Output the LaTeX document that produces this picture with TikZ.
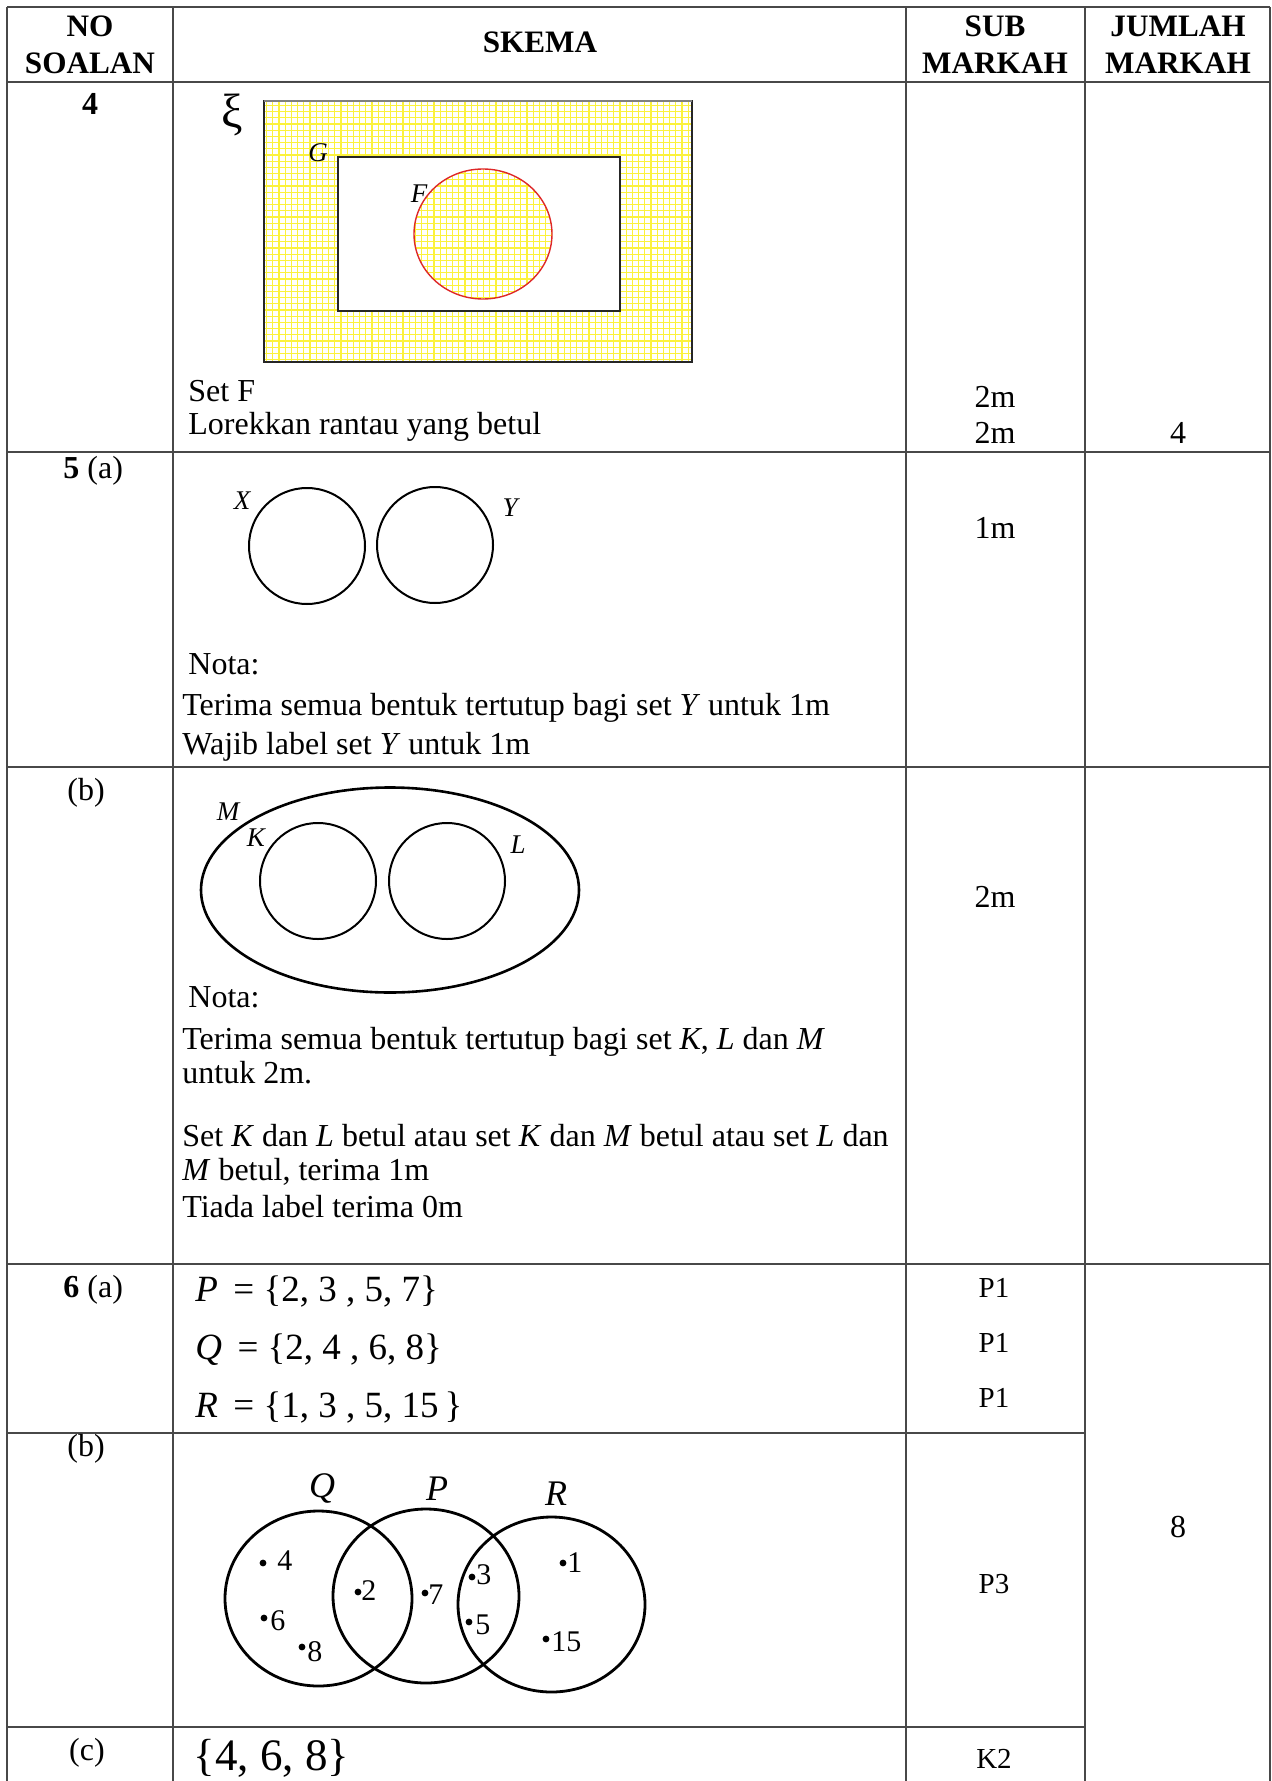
\documentclass[tikz,border=0pt]{standalone}
\usepackage{fontspec}
\setmainfont{Liberation Serif}
\usetikzlibrary{positioning}
\definecolor{RuleGray}{RGB}{72,72,72}
\definecolor{GridYellow}{RGB}{252,242,60}
\definecolor{SetRed}{RGB}{222,40,40}

\tikzset{
  rule/.style={line width=1pt, RuleGray},
  cell/.style={inner sep=0pt, font=\fontsize{16}{19}\selectfont},
  lhs/.style={cell, anchor=base west},
  mid/.style={cell, anchor=base},
  head/.style={cell, anchor=base, font=\fontsize{15.6}{19}\selectfont\bfseries},
  tag/.style={inner sep=0pt, font=\fontsize{13.5}{15}\selectfont\itshape},
  bigset/.style={inner sep=0pt, anchor=base west, font=\fontsize{18.5}{22}\selectfont},
  smallmk/.style={inner sep=0pt, anchor=base, font=\fontsize{14.5}{17}\selectfont},
  num/.style={inner sep=0pt, anchor=west, font=\fontsize{15}{18}\selectfont},
  venn/.style={line width=1pt},
}

\begin{document}
\begin{tikzpicture}[x=0.5pt,y=-0.5pt]
\useasboundingbox (0,0) rectangle (1272,1781);

% table rules
\draw[rule] (7,7) -- (1270,7);
\draw[rule] (7,82) -- (1270,82);
\draw[rule] (7,452) -- (1270,452);
\draw[rule] (7,767) -- (1270,767);
\draw[rule] (7,1264) -- (1270,1264);
\draw[rule] (7,1433) -- (1085,1433);
\draw[rule] (7,1727) -- (1085,1727);
\foreach \x in {7,173,906,1085,1270}
  \draw[rule] (\x,7) -- (\x,1781);

% header
\node[head] (no1) at (90,37) {NO};
\node[head] (no2) at (90,74) {SOALAN};
\node[head] (skema) at (540,53) {SKEMA};
\node[head] (sub1) at (995,37) {SUB};
\node[head] (sub2) at (995,74) {MARKAH};
\node[head] (jum1) at (1178,37) {JUMLAH};
\node[head] (jum2) at (1178,74) {MARKAH};

% soalan 4
\node[mid, font=\fontsize{16}{19}\selectfont\bfseries] (q4) at (90,115) {4};
\begin{scope}
  \clip (264,101) rectangle (692,362);
  \draw[GridYellow, line width=0.55pt, step=3.1pt] (264,362) grid (692,101);
\end{scope}
\fill[white] (338,157) rectangle (620,311);
\begin{scope}
  \clip (483,234) ellipse [x radius=69, y radius=65];
  \draw[GridYellow, line width=0.55pt, step=3.1pt] (405,310) grid (560,160);
\end{scope}
\draw[line width=0.6pt, black!85] (264,101) rectangle (692,362);
\draw[line width=1.4pt, gray] (264,101) -- (692,101);
\draw[line width=0.6pt, black!85] (338,157) rectangle (620,311);
\draw[SetRed, line width=0.7pt] (483,234) ellipse [x radius=69, y radius=65];
\node[inner sep=0pt, font=\fontsize{24}{26}\selectfont] (xi) at (232,115) {ξ};
\node[tag] (setG) at (318,153) {G};
\node[tag] (setF) at (419,194) {F};
\node[lhs] (t4a) at (188,401) {Set F};
\node[lhs] (t4b) at (188,434) {Lorekkan rantau yang betul};
\node[mid] (m4a) at (995,408) {2m};
\node[mid] (m4b) at (995,443) {2m};
\node[mid] (j4) at (1178,443) {4};

% soalan 5(a)
\node[lhs] (q5a) at (63,478) {\textbf{5} (a)};
\draw[venn] (307,546) circle [radius=58];
\draw[venn] (435,545) circle [radius=58];
\node[tag] (setX) at (242,501) {X};
\node[tag] (setY) at (510,508) {Y};
\node[lhs] (n5a) at (188,674) {Nota:};
\node[lhs] (t5a1) at (182,715) {Terima semua bentuk tertutup bagi set \textit{Y} untuk 1m};
\node[lhs] (t5a2) at (182,754) {Wajib label set \textit{Y} untuk 1m};
\node[mid] (m5a) at (995,538) {1m};

% soalan 5(b)
\node[mid] (q5b) at (86,800) {(b)};
\draw[line width=1.3pt] (390,890) ellipse [x radius=189, y radius=102.5];
\draw[venn] (318,881) circle [radius=58];
\draw[venn] (447,881) circle [radius=58];
\node[tag] (setM) at (228,812) {M};
\node[tag] (setK) at (256,838) {K};
\node[tag] (setL) at (518,845) {L};
\node[lhs] (n5b) at (188,1007) {Nota:};
\node[lhs] (t5b1) at (182,1049) {Terima semua bentuk tertutup bagi set \textit{K}, \textit{L} dan \textit{M}};
\node[lhs] (t5b2) at (182,1083) {untuk 2m.};
\node[lhs] (t5b3) at (182,1146) {Set \textit{K} dan \textit{L} betul atau set \textit{K} dan \textit{M} betul atau set \textit{L} dan};
\node[lhs] (t5b4) at (182,1180) {\textit{M} betul, terima 1m};
\node[lhs] (t5b5) at (182,1217) {Tiada label terima 0m};
\node[mid] (m5b) at (995,907) {2m};

% soalan 6(a)
\node[lhs] (q6a) at (63,1297) {\textbf{6} (a)};
\node[bigset] (setP6) at (195,1301) {\textit{P} \,= \{2, 3 , 5, 7\}};
\node[bigset] (setQ6) at (195,1359) {\textit{Q} \,= \{2, 4 , 6, 8\}};
\node[bigset] (setR6) at (195,1417) {\textit{R} \,= \{1, 3 , 5, 15\,\}};
\node[smallmk] (p1a) at (994,1297) {P1};
\node[smallmk] (p1b) at (994,1352) {P1};
\node[smallmk] (p1c) at (994,1407) {P1};
\node[mid] (j6) at (1178,1537) {8};

% soalan 6(b)
\node[mid] (q6b) at (86,1456) {(b)};
\draw[line width=1.4pt] (318.5,1598.5) ellipse [x radius=93.5, y radius=87.5];
\draw[line width=1.4pt] (426,1596) ellipse [x radius=93, y radius=87];
\draw[line width=1.4pt] (551.5,1604.5) ellipse [x radius=93.5, y radius=87.5];
\node[tag, anchor=base, font=\fontsize{18}{20}\selectfont\itshape] (labQ) at (322,1497) {Q};
\node[tag, anchor=base, font=\fontsize{18}{20}\selectfont\itshape] (labP) at (437,1500) {P};
\node[tag, anchor=base, font=\fontsize{18}{20}\selectfont\itshape] (labR) at (556,1505) {R};
\foreach \dx/\dy/\lx/\ly/\n in {263/1563/277/1561/4, 358/1592/361/1591/2, 425/1593/428/1595/7,
    472/1577/476/1575/3, 563/1563/567/1563/1, 264/1618/270/1621/6, 302/1647/307/1652/8,
    469/1622/475/1625/5, 546/1639/551/1642/15}{
  \fill (\dx,\dy) circle [radius=3.4];
  \node[num] (e\n) at (\lx,\ly) {\n};
}
\node[smallmk] (p3) at (994,1593) {P3};

% soalan 6(c)
\node[mid] (q6c) at (87,1760) {(c)};
\node[bigset, font=\fontsize{22.5}{25}\selectfont] (ans6c) at (193,1770) {\{4, 6, 8\}};
\node[smallmk] (k2) at (994,1768) {K2};
\end{tikzpicture}
\end{document}
